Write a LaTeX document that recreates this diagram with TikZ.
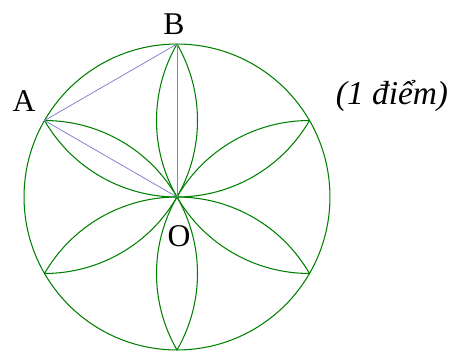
\documentclass[tikz,border=0pt]{standalone}
\usepackage{fontspec}
\setmainfont{Liberation Serif}
\usetikzlibrary{calc}
\definecolor{petalgreen}{RGB}{0,128,0}
\definecolor{chordblue}{RGB}{130,130,210}

\begin{document}
\begin{tikzpicture}[x=0.02cm,y=0.02cm,line cap=round,line join=round,
  petalline/.style={petalgreen,line width=0.6pt},
  chordline/.style={chordblue,line width=0.45pt},
  lbl/.style={font=\fontsize{18}{20}\selectfont,inner sep=0pt}]
  \useasboundingbox (0,0) rectangle (451,352);
  \def\r{3.06cm}
  \coordinate (O) at (177,155);
  \coordinate (A) at ($(O)+(150:\r)$);
  \coordinate (B) at ($(O)+(90:\r)$);
  % outer circle
  \draw[petalline] (O) circle[radius=\r];
  % six petals
  \foreach \t in {90,30,-30,-90,-150,150}{
    \draw[petalline] (O) arc[start angle=\t-120,end angle=\t-60,radius=\r];
    \draw[petalline] (O) arc[start angle=\t+120,end angle=\t+60,radius=\r];
  }
  % triangle
  \draw[chordline] (A) -- (B);
  \draw[chordline] (B) -- (O);
  \draw[chordline] (O) -- (A);
  \node[lbl] (labA) at (24,251) {A};
  \node[lbl] (labB) at (174,328) {B};
  \node[lbl] (labO) at (179,116) {O};
  \node[lbl,font=\fontsize{19}{21}\selectfont\itshape] (mark) at (392,256) {(1 điểm)};
\end{tikzpicture}
\end{document}
